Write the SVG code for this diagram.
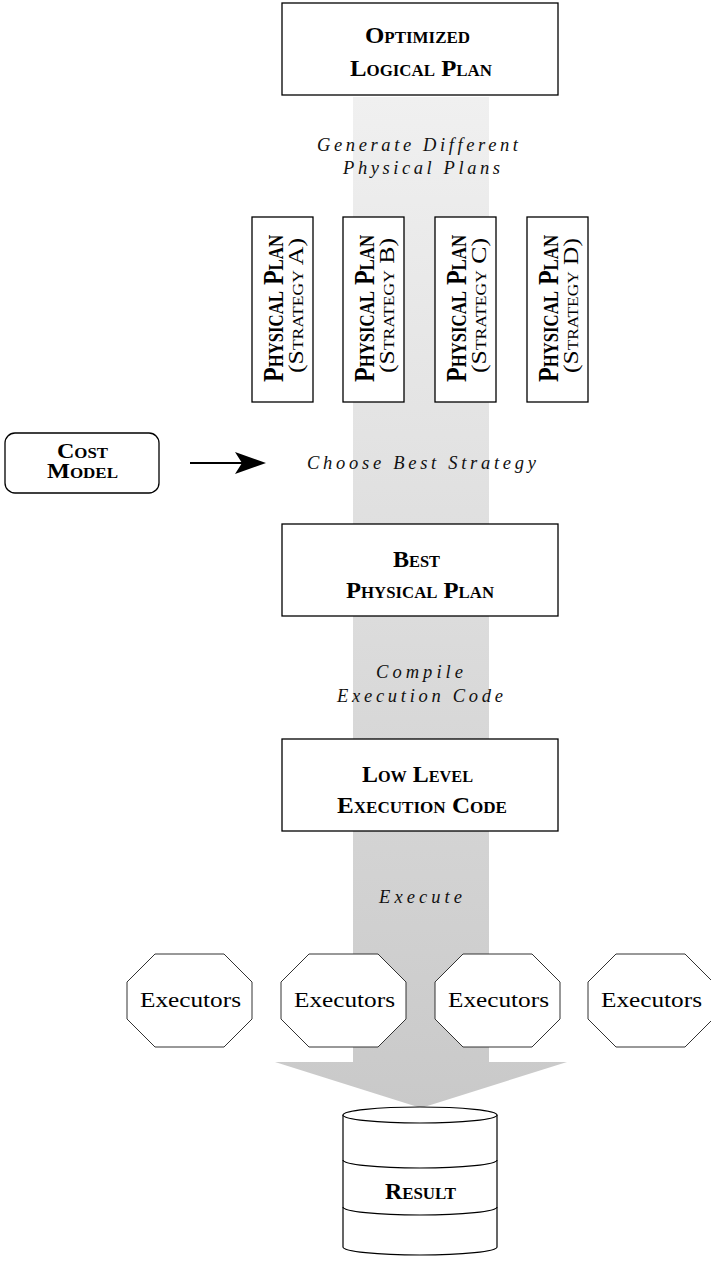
<svg xmlns="http://www.w3.org/2000/svg" width="711" height="1263" viewBox="0 0 711 1263">
<style>
.box{fill:#fff;stroke:#000;stroke-width:1.3}
.oct{fill:#fff;stroke:#333;stroke-width:1}
.sc{font-family:"Liberation Serif",serif;font-weight:bold;font-variant:small-caps;font-size:23.5px;fill:#000}
.scr{font-family:"Liberation Serif",serif;font-variant:small-caps;font-size:22px;fill:#000}
.it{font-family:"Liberation Serif",serif;font-style:italic;font-size:18.5px;fill:#111}
.ex{font-family:"Liberation Serif",serif;font-size:21px;fill:#000}
</style>
<defs>
<linearGradient id="bandGrad" gradientUnits="userSpaceOnUse" x1="0" y1="97" x2="0" y2="1108">
<stop offset="0" stop-color="#f0f0f0"/>
<stop offset="1" stop-color="#c9c9c9"/>
</linearGradient>
</defs>
<g id="flow-arrow">
<polygon points="353,97 489,97 489,1062 567,1062 421,1108 275,1062 353,1062" fill="url(#bandGrad)"/>
</g>
<g id="connectors">
<line x1="190" y1="463" x2="243" y2="463" stroke="#000" stroke-width="2"/>
<polygon points="266,463 235,452 242,463 235,474" fill="#000"/>
</g>
<g id="optimized-logical-plan">
<rect class="box" x="282" y="3" width="276" height="92"/>
<text class="sc" x="365" y="43" textLength="105" lengthAdjust="spacingAndGlyphs">Optimized</text>
<text class="sc" x="350" y="76" textLength="142" lengthAdjust="spacingAndGlyphs">Logical Plan</text>
</g>
<g id="label-generate">
<text class="it" x="317" y="151" textLength="201" lengthAdjust="spacing">Generate Different</text>
<text class="it" x="343" y="174" textLength="157" lengthAdjust="spacing">Physical Plans</text>
</g>
<g id="plan-a">
<rect class="box" x="252" y="217" width="61" height="185"/>
<text class="sc" style="font-size:30px" transform="translate(283,382) rotate(-90)" textLength="147" lengthAdjust="spacingAndGlyphs">Physical Plan</text>
<text class="scr" transform="translate(303,373) rotate(-90)" textLength="135" lengthAdjust="spacingAndGlyphs">(Strategy A)</text>
</g>
<g id="plan-b">
<rect class="box" x="343" y="217" width="61" height="185"/>
<text class="sc" style="font-size:30px" transform="translate(374,382) rotate(-90)" textLength="147" lengthAdjust="spacingAndGlyphs">Physical Plan</text>
<text class="scr" transform="translate(394,373) rotate(-90)" textLength="135" lengthAdjust="spacingAndGlyphs">(Strategy B)</text>
</g>
<g id="plan-c">
<rect class="box" x="435" y="217" width="61" height="185"/>
<text class="sc" style="font-size:30px" transform="translate(466,382) rotate(-90)" textLength="147" lengthAdjust="spacingAndGlyphs">Physical Plan</text>
<text class="scr" transform="translate(486,373) rotate(-90)" textLength="135" lengthAdjust="spacingAndGlyphs">(Strategy C)</text>
</g>
<g id="plan-d">
<rect class="box" x="527" y="217" width="61" height="185"/>
<text class="sc" style="font-size:30px" transform="translate(558,382) rotate(-90)" textLength="147" lengthAdjust="spacingAndGlyphs">Physical Plan</text>
<text class="scr" transform="translate(578,373) rotate(-90)" textLength="135" lengthAdjust="spacingAndGlyphs">(Strategy D)</text>
</g>
<g id="cost-model">
<rect class="box" x="5" y="433" width="154" height="60" rx="10" ry="10"/>
<text class="sc" style="font-size:20px" x="57" y="458" textLength="51" lengthAdjust="spacingAndGlyphs">Cost</text>
<text class="sc" style="font-size:20px" x="47" y="478" textLength="71" lengthAdjust="spacingAndGlyphs">Model</text>
</g>
<g id="label-choose">
<text class="it" x="307" y="469" textLength="229" lengthAdjust="spacing">Choose Best Strategy</text>
</g>
<g id="best-physical-plan">
<rect class="box" x="282" y="524" width="276" height="92"/>
<text class="sc" x="393" y="567" textLength="47" lengthAdjust="spacingAndGlyphs">Best</text>
<text class="sc" x="346" y="598" textLength="148" lengthAdjust="spacingAndGlyphs">Physical Plan</text>
</g>
<g id="label-compile">
<text class="it" x="376" y="678" textLength="87" lengthAdjust="spacing">Compile</text>
<text class="it" x="337" y="702" textLength="166" lengthAdjust="spacing">Execution Code</text>
</g>
<g id="low-level-code">
<rect class="box" x="282" y="739" width="276" height="92"/>
<text class="sc" x="362" y="782" textLength="111" lengthAdjust="spacingAndGlyphs">Low Level</text>
<text class="sc" x="337" y="813" textLength="170" lengthAdjust="spacingAndGlyphs">Execution Code</text>
</g>
<g id="label-execute">
<text class="it" x="379" y="903" textLength="83" lengthAdjust="spacing">Execute</text>
</g>
<g id="executors-1">
<polygon class="oct" points="155,954 224,954 252,982 252,1019 224,1047 155,1047 127,1019 127,982"/>
<text class="ex" x="140" y="1007" textLength="101" lengthAdjust="spacingAndGlyphs">Executors</text>
</g>
<g id="executors-2">
<polygon class="oct" points="309,954 378,954 406,982 406,1019 378,1047 309,1047 281,1019 281,982"/>
<text class="ex" x="294" y="1007" textLength="101" lengthAdjust="spacingAndGlyphs">Executors</text>
</g>
<g id="executors-3">
<polygon class="oct" points="463,954 532,954 560,982 560,1019 532,1047 463,1047 435,1019 435,982"/>
<text class="ex" x="448" y="1007" textLength="101" lengthAdjust="spacingAndGlyphs">Executors</text>
</g>
<g id="executors-4">
<polygon class="oct" points="616,954 685,954 713,982 713,1019 685,1047 616,1047 588,1019 588,982"/>
<text class="ex" x="601" y="1007" textLength="101" lengthAdjust="spacingAndGlyphs">Executors</text>
</g>
<g id="result">
<path d="M343,1115 L343,1247 A77,8 0 0 0 497,1247 L497,1115" fill="#fff" stroke="#000" stroke-width="1.2"/>
<ellipse cx="420" cy="1115" rx="77" ry="8" fill="#fff" stroke="#000" stroke-width="1.2"/>
<path d="M343,1160 A77,8 0 0 0 497,1160" fill="none" stroke="#000" stroke-width="1.2"/>
<path d="M343,1207 A77,8 0 0 0 497,1207" fill="none" stroke="#000" stroke-width="1.2"/>
<text class="sc" style="font-size:24px" x="385" y="1199" textLength="71" lengthAdjust="spacingAndGlyphs">Result</text>
</g>
</svg>
